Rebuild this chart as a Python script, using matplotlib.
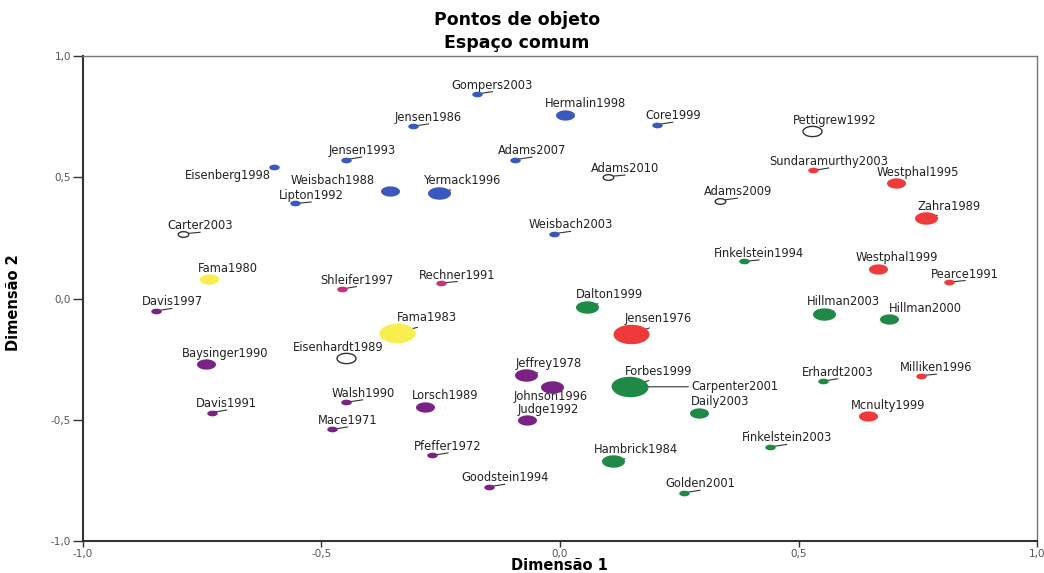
import numpy as np
import matplotlib
matplotlib.use("Agg")
import matplotlib.pyplot as plt

# dados (coordenadas das dimensoes)
autores = [
    "Gompers2003", "Jensen1986", "Hermalin1998", "Core1999", "Jensen1993",
    "Adams2007", "Eisenberg1998", "Weisbach1988", "Yermack1996", "Lipton1992",
    "Weisbach2003", "Adams2010", "Pettigrew1992", "Adams2009", "Carter2003",
    "Eisenhardt1989", "Sundaramurthy2003", "Westphal1995", "Zahra1989",
    "Westphal1999", "Pearce1991", "Jensen1976", "Milliken1996", "Mcnulty1999",
    "Finkelstein1994", "Dalton1999", "Hillman2003", "Hillman2000", "Forbes1999",
    "Carpenter2001", "Erhardt2003", "Daily2003", "Finkelstein2003",
    "Hambrick1984", "Golden2001", "Fama1980", "Fama1983", "Shleifer1997",
    "Rechner1991", "Davis1997", "Baysinger1990", "Jeffrey1978", "Johnson1996",
    "Judge1992", "Walsh1990", "Lorsch1989", "Davis1991", "Mace1971",
    "Pfeffer1972", "Goodstein1994",
]
dimensao1 = [
    -0.175, -0.309, 0.010, 0.203, -0.449,
    -0.094, -0.600, -0.356, -0.254, -0.555,
    -0.013, 0.101, 0.528, 0.335, -0.790,
    -0.449, 0.530, 0.704, 0.767,
    0.667, 0.816, 0.148, 0.756, 0.645,
    0.386, 0.057, 0.553, 0.689, 0.145,
    0.146, 0.551, 0.291, 0.440,
    0.112, 0.260, -0.736, -0.341, -0.458,
    -0.249, -0.847, -0.743, -0.071, -0.017,
    -0.069, -0.449, -0.283, -0.730, -0.479,
    -0.268, -0.149,
]
dimensao2 = [
    0.843, 0.710, 0.757, 0.717, 0.573,
    0.573, 0.542, 0.445, 0.437, 0.392,
    0.267, 0.503, 0.691, 0.404, 0.267,
    -0.247, 0.528, 0.476, 0.332,
    0.123, 0.068, -0.145, -0.318, -0.486,
    0.153, -0.033, -0.063, -0.084, -0.362,
    -0.364, -0.341, -0.472, -0.612,
    -0.672, -0.801, 0.080, -0.142, 0.039,
    0.064, -0.051, -0.269, -0.317, -0.364,
    -0.499, -0.428, -0.447, -0.470, -0.540,
    -0.647, -0.776,
]
# 0 = sem grupo (circulo vazio)
grupos = [
    1, 1, 1, 1, 1,
    1, 1, 1, 1, 1,
    1, 0, 0, 0, 0,
    0, 2, 2, 2,
    2, 2, 2, 2, 2,
    3, 3, 3, 3, 3,
    3, 3, 3, 3,
    3, 3, 4, 4, 5,
    5, 6, 6, 6, 6,
    6, 6, 6, 6, 6,
    6, 6,
]
pesos = [
    1, 1, 2, 1, 1,
    1, 1, 2, 3, 1,
    1, 1, 2, 1, 1,
    2, 1, 2, 3,
    2, 1, 4, 1, 2,
    1, 3, 3, 2, 4,
    4, 1, 2, 1,
    3, 1, 2, 4, 1,
    1, 1, 2, 3, 3,
    2, 1, 2, 1, 1,
    1, 1,
]

ticks = [-1.0, -0.5, 0.0, 0.5, 1.0]
tick_labels = ["-1,0", "-0,5", "0,0", "0,5", "1,0"]

# estilo
cores = {0: "white", 1: "#3B58BF", 2: "#EE3A3A", 3: "#1F8A47",
         4: "#F8EE50", 5: "#C9337A", 6: "#7A2384"}
larguras = {1: 10.5, 2: 19, 3: 23, 4: 36}  # largura do marcador em px

# posicao do rotulo relativa ao ponto (px) e ponto de ligacao no texto
desloc = {
    "Gompers2003": (16, 9), "Jensen1986": (16, 9), "Hermalin1998": (21, 11),
    "Core1999": (16, 9), "Jensen1993": (16, 9), "Adams2007": (17, 9),
    "Eisenberg1998": (-46, -8), "Weisbach1988": (-58, 10), "Yermack1996": (24, 12),
    "Lipton1992": (16, 8), "Weisbach2003": (17, 9), "Adams2010": (17, 8),
    "Pettigrew1992": (23, 10), "Adams2009": (18, 9), "Carter2003": (17, 8),
    "Eisenhardt1989": (-8, 11), "Sundaramurthy2003": (16, 9), "Westphal1995": (22, 11),
    "Zahra1989": (23, 12), "Westphal1999": (19, 11), "Pearce1991": (16, 8),
    "Jensen1976": (28, 15), "Milliken1996": (16, 8), "Mcnulty1999": (20, 11),
    "Finkelstein1994": (15, 8), "Dalton1999": (22, 12), "Hillman2003": (20, 12),
    "Hillman2000": (37, 10), "Forbes1999": (29, 15), "Carpenter2001": (105, 0),
    "Erhardt2003": (15, 9), "Daily2003": (21, 11), "Finkelstein2003": (17, 9),
    "Hambrick1984": (23, 12), "Golden2001": (16, 9), "Fama1980": (19, 11),
    "Fama1983": (30, 15), "Shleifer1997": (15, 9), "Rechner1991": (16, 8),
    "Davis1997": (16, 9), "Baysinger1990": (20, 10), "Jeffrey1978": (23, 12),
    "Johnson1996": (-1, -10), "Judge1992": (21, 10), "Walsh1990": (17, 9),
    "Lorsch1989": (20, 11), "Davis1991": (15, 9), "Mace1971": (16, 9),
    "Pfeffer1972": (16, 9), "Goodstein1994": (16, 9),
}
ligacao = {"Eisenberg1998": (0.8, 1.0), "Carpenter2001": (0.0, 0.5),
           "Hillman2000": (0.25, 0.0), "Johnson1996": (0.5, 1.0),
           "Eisenhardt1989": (0.55, 0.0)}
sem_linha = ["Weisbach1988"]

ASPECTO = 1.85
t = np.linspace(0, 2 * np.pi, 60)
elipse = list(zip(np.cos(t), np.sin(t) / ASPECTO))

fig = plt.figure(figsize=(10.44, 5.73), dpi=100)
ax = fig.add_axes([0.0795, 0.0558, 0.9138, 0.8464])

for nome, x, y, g, p in zip(autores, dimensao1, dimensao2, grupos, pesos):
    w = larguras[p] * 0.72
    if g == 0:
        ax.scatter(x, y, s=w ** 2, marker=elipse, facecolor="white",
                   edgecolor="#333333", linewidth=1.0, zorder=3)
    else:
        ax.scatter(x, y, s=w ** 2, marker=elipse, color=cores[g],
                   linewidth=0, zorder=3)
    arrow = None
    if nome not in sem_linha:
        arrow = dict(arrowstyle="-", color="#333333", lw=0.8, shrinkA=0,
                     shrinkB=0, relpos=ligacao.get(nome, (0.5, 0.0)))
    ax.annotate(nome, xy=(x, y), xytext=desloc[nome], textcoords="offset pixels",
                ha="center", va="center", fontsize=8.3, color="#222222",
                arrowprops=arrow, zorder=2)

ax.set_xlim(-1, 1)
ax.set_ylim(-1, 1)
ax.set_xticks(ticks, tick_labels)
ax.set_yticks(ticks, tick_labels)
ax.tick_params(axis="x", length=4, width=1, pad=1.5, labelsize=7.5, labelcolor="#555555", color="#333333")
ax.tick_params(axis="y", length=7.5, width=1, pad=1, labelsize=7.5, labelcolor="#555555", color="#333333")
for lado in ["left", "bottom"]:
    ax.spines[lado].set_linewidth(1.5)
    ax.spines[lado].set_color("#333333")
for lado in ["top", "right"]:
    ax.spines[lado].set_linewidth(1.0)
    ax.spines[lado].set_color("#777777")

fig.text(0.495, 0.965, "Pontos de objeto", ha="center", va="center",
         fontsize=12.5, fontweight="bold")
fig.text(0.495, 0.925, "Espaço comum", ha="center", va="center",
         fontsize=12.5, fontweight="bold")
fig.text(0.536, 0.006, "Dimensão 1", ha="center", va="baseline",
         fontsize=10.5, fontweight="bold")
fig.text(0.0125, 0.471, "Dimensão 2", ha="center", va="center", rotation=90,
         fontsize=10.5, fontweight="bold", family=["Liberation Sans Narrow", "DejaVu Sans"])

fig.savefig("out.png", dpi=100)
